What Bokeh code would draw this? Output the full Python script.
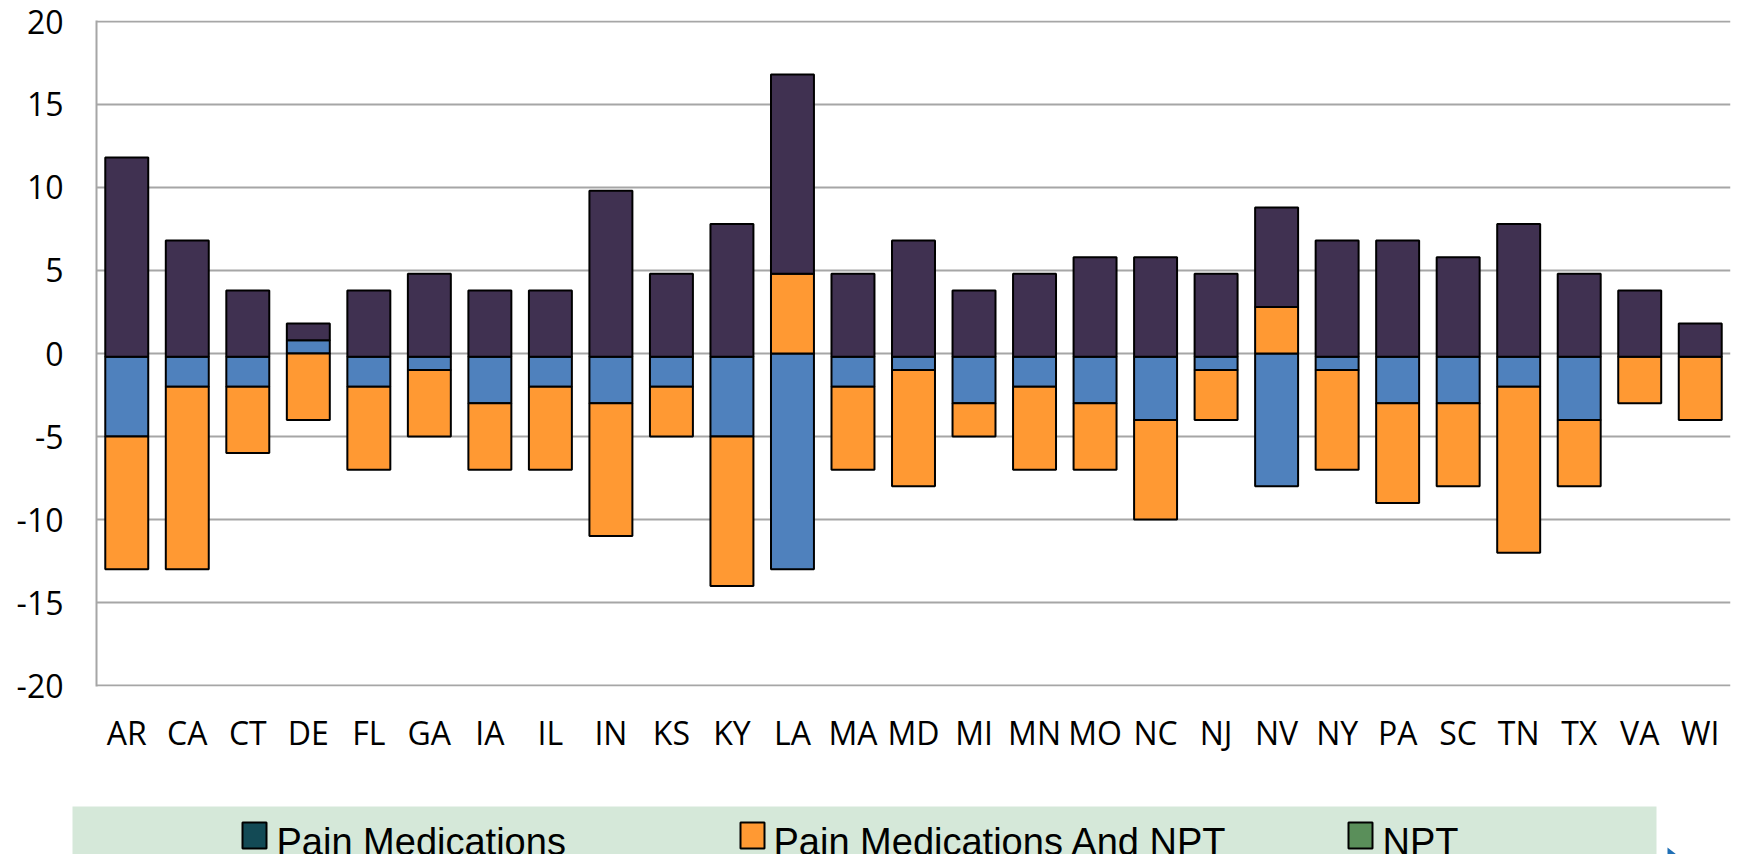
from bokeh.plotting import figure
from bokeh.models import ColumnDataSource, Range1d, FactorRange, FixedTicker, NumeralTickFormatter
from bokeh.layouts import column
from bokeh.embed import file_html
from bokeh.resources import INLINE
from bokeh.core.properties import value

# ---------------- data ----------------
states = ["AR", "CA", "CT", "DE", "FL", "GA", "IA", "IL", "IN", "KS", "KY", "LA", "MA", "MD",
          "MI", "MN", "MO", "NC", "NJ", "NV", "NY", "PA", "SC", "TN", "TX", "VA", "WI"]
# stacking baseline of each column
base = [-0.2, -0.2, -0.2, 0.0, -0.2, -0.2, -0.2, -0.2, -0.2, -0.2, -0.2, 0.0, -0.2, -0.2,
        -0.2, -0.2, -0.2, -0.2, -0.2, 0.0, -0.2, -0.2, -0.2, -0.2, -0.2, -0.2, -0.2]
blue = [-4.8, -1.8, -1.8, 0.8, -1.8, -0.8, -2.8, -1.8, -2.8, -1.8, -4.8, -13.0, -1.8, -0.8,
        -2.8, -1.8, -2.8, -3.8, -0.8, -8.0, -0.8, -2.8, -2.8, -1.8, -3.8, 0.0, 0.0]
orange = [-8, -11, -4, -4, -5, -4, -4, -5, -8, -3, -9, 4.8, -5, -7,
          -2, -5, -4, -6, -3, 2.8, -6, -6, -5, -10, -4, -2.8, -3.8]
purple = [12, 7, 4, 1, 4, 5, 4, 4, 10, 5, 8, 12, 5, 7,
          4, 5, 6, 6, 5, 6, 7, 7, 6, 8, 5, 4, 2]

legend_labels = ["Pain Medications", "Pain Medications And NPT", "NPT"]
legend_colors = ["#134a55", "#ff9933", "#5a8f5a"]

y_ticks = [-20, -15, -10, -5, 0, 5, 10, 15, 20]

# ---------------- stacking ----------------
series = [("blue", blue, "#4f81bd"), ("orange", orange, "#ff9933"), ("purple", purple, "#403151")]
pos = list(base)
neg = list(base)
stacks = {}
for name, vals, col in series:
    bots, tops = [], []
    for i, v in enumerate(vals):
        if v >= 0:
            b, t = pos[i], pos[i] + v
            pos[i] = t
        else:
            b, t = neg[i] + v, neg[i]
            neg[i] = b
        bots.append(b)
        tops.append(t)
    stacks[name] = (bots, tops, col)

# ---------------- main figure ----------------
p = figure(x_range=FactorRange(*states), y_range=Range1d(-20.06, 20.06),
           width=1737, height=800, output_backend="svg", toolbar_location=None,
           min_border_left=96, min_border_right=7, min_border_top=20, min_border_bottom=114,
           frame_align=False)
p.outline_line_color = None
p.background_fill_color = "white"

for name, vals, col in series:
    bots, tops, c = stacks[name]
    src = ColumnDataSource(dict(x=states, bottom=bots, top=tops))
    p.vbar(x="x", bottom="bottom", top="top", width=0.71, source=src,
           fill_color=c, line_color="black", line_width=2)

p.xgrid.grid_line_color = None
p.ygrid.ticker = FixedTicker(ticks=y_ticks)
p.ygrid.grid_line_color = "#a6a6a6"
p.ygrid.grid_line_width = 2

p.yaxis.ticker = FixedTicker(ticks=y_ticks)
p.yaxis.formatter = NumeralTickFormatter(format="0")
p.yaxis.axis_line_color = "#a6a6a6"
p.yaxis.axis_line_width = 2
p.yaxis.major_tick_line_color = None
p.yaxis.minor_tick_line_color = None
p.yaxis.major_tick_out = 0
p.yaxis.major_label_standoff = 33
p.yaxis.major_label_text_font = "Open Sans"
p.yaxis.major_label_text_font_size = "32px"
p.yaxis.major_label_text_color = "black"

p.xaxis.axis_line_color = None
p.xaxis.major_tick_line_color = None
p.xaxis.major_tick_out = 0
p.xaxis.major_label_standoff = 24
p.xaxis.major_label_text_font = "Open Sans"
p.xaxis.major_label_text_font_size = "32px"
p.xaxis.major_label_text_color = "black"

# ---------------- legend strip (own figure, pixel coordinates) ----------------
W, H = 1737, 54
lg = figure(x_range=Range1d(0, W), y_range=Range1d(H, 0), width=W, height=H,
            output_backend="svg", toolbar_location=None, x_axis_type=None, y_axis_type=None,
            min_border=0, frame_align=False)
lg.outline_line_color = None
lg.xgrid.grid_line_color = None
lg.ygrid.grid_line_color = None
lg.quad(left=[72], right=[1656], top=[6], bottom=[70], fill_color="#d5e8d9", line_color=None)
sq_left = [242, 740, 1348]
txt_x = [276, 773, 1382]
lg.quad(left=sq_left, right=[s + 24 for s in sq_left], top=[22] * 3, bottom=[48] * 3,
        fill_color=legend_colors, line_color="black", line_width=2)
lg.text(x=txt_x, y=[41] * 3, text=legend_labels, text_font=value("Liberation Sans"),
        text_font_size="38px", text_baseline="alphabetic", text_color="black")
lg.patch(x=[1667, 1667, 1676], y=[47, 54, 54], fill_color="#1f6fb5", line_color=None)

layout = column(p, lg, spacing=0)
open("out.html", "w").write(file_html(layout, INLINE))
